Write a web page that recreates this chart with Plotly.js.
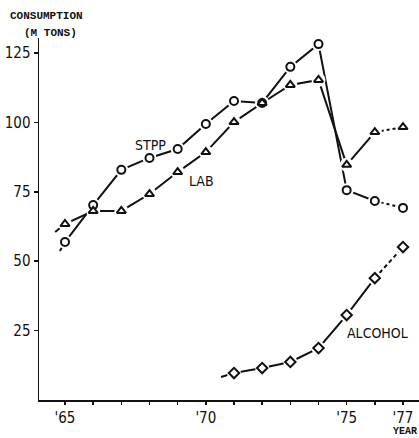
<!DOCTYPE html>
<html>
<head>
<meta charset="utf-8">
<script src="https://cdn.plot.ly/plotly-3.0.1.min.js"></script>
<style>html,body{margin:0;padding:0;background:#fff}#chart{width:419px;height:438px}</style>
</head>
<body>
<div id="chart"></div>
<script>
// ---- data ----
const years = [1965,1966,1967,1968,1969,1970,1971,1972,1973,1974,1975,1976,1977];
const stpp  = [56.9,70.2,82.9,87.2,90.4,99.4,107.7,107.0,120.0,128.2,75.6,71.7,69.2];
const lab   = [63.4,68.1,68.1,74.2,82.1,89.3,100.1,107.0,113.5,115.3,84.7,96.5,98.3];
const alcoholYears = [1971,1972,1973,1974,1975,1976,1977];
const alcohol      = [9.7,11.5,13.7,18.7,30.6,43.9,55.1];
// short leading strokes before the first point of each series
const stppLead    = {x: 1964.82, y: 53.7};
const labLead     = {x: 1964.65, y: 60.5};
const alcoholLead = {x: 1970.54, y: 8.3};
// tick labels
const xTickVals = years;
const xTickText = ["'65","","","","","'70","","","","","'75","","'77"];
const yTickVals = [25,50,75,100,125];
const yTickText = ["25","50","75","100","125"];
// series labels
const seriesLabels = [
  {text:"STPP", x:1968.02, y:91.9},
  {text:"LAB", x:1969.86, y:78.9},
  {text:"ALCOHOL", x:1976.11, y:24.1}
];

const INK = '#111';
const NARROW = '"Liberation Sans Narrow","DejaVu Sans Condensed","Arial Narrow",sans-serif';
const MONO = '"Liberation Mono","DejaVu Sans Mono",monospace';

function lineTrace(x, y, dash) {
  return {x:x, y:y, mode:'lines', type:'scatter', hoverinfo:'skip', showlegend:false,
          line:{color:INK, width:2, dash:dash||'solid'}};
}
function haloTrace(x, y) {
  return {x:x, y:y, mode:'markers', type:'scatter', hoverinfo:'skip', showlegend:false,
          marker:{symbol:'circle', size:14, color:'#fff', line:{width:0}}};
}
function markerTrace(x, y, sym, size) {
  return {x:x, y:y, mode:'markers', type:'scatter', showlegend:false,
          marker:{symbol:sym, size:size, color:'#fff', line:{color:INK, width:2}}};
}

const n = years.length;
const an = alcoholYears.length;
const traces = [
  lineTrace([stppLead.x, years[0]], [stppLead.y, stpp[0]]),
  lineTrace([labLead.x, years[0]], [labLead.y, lab[0]]),
  lineTrace([alcoholLead.x, alcoholYears[0]], [alcoholLead.y, alcohol[0]]),
  lineTrace(years.slice(0, n-1), stpp.slice(0, n-1)),
  lineTrace(years.slice(0, n-1), lab.slice(0, n-1)),
  lineTrace(alcoholYears.slice(0, an-1), alcohol.slice(0, an-1)),
  lineTrace(years.slice(n-2), stpp.slice(n-2), '3px,3px'),
  lineTrace(years.slice(n-2), lab.slice(n-2), '3px,3px'),
  lineTrace(alcoholYears.slice(an-2), alcohol.slice(an-2), '4px,3px'),
  haloTrace(years, stpp),
  haloTrace(years, lab),
  haloTrace(alcoholYears, alcohol),
  markerTrace(years, stpp, 'circle', 8),
  markerTrace(years, lab, 'triangle-up', 8),
  markerTrace(alcoholYears, alcohol, 'diamond', 8)
];

const annotations = seriesLabels.map(s => ({
  x:s.x, y:s.y, xref:'x', yref:'y', text:s.text, showarrow:false,
  font:{family:NARROW, size:14, color:INK}
}));
annotations.push(
  {xref:'paper', yref:'paper', x:-0.082, y:1.061, xanchor:'left', yanchor:'middle', showarrow:false,
   text:'<b>CONSUMPTION</b>', font:{family:MONO, size:11, color:INK}},
  {xref:'paper', yref:'paper', x:-0.045, y:1.014, xanchor:'left', yanchor:'middle', showarrow:false,
   text:'<b>(M TONS)</b>', font:{family:MONO, size:11, color:INK}},
  {xref:'paper', yref:'paper', x:1.0, y:-0.088, xanchor:'right', yanchor:'middle', showarrow:false,
   text:'<b>YEAR</b>', font:{family:MONO, size:10, color:INK}}
);

const layout = {
  width:419, height:438,
  margin:{l:39, r:0, t:38, b:38, pad:0},
  paper_bgcolor:'#fff', plot_bgcolor:'#fff',
  showlegend:false,
  xaxis:{range:[1964.077, 1977.568], showgrid:false, zeroline:false,
         showline:true, linecolor:INK, linewidth:1.5,
         ticks:'outside', ticklen:3, tickwidth:1.5, tickcolor:INK,
         tickmode:'array', tickvals:xTickVals, ticktext:xTickText,
         tickfont:{family:NARROW, size:15, color:INK}},
  yaxis:{range:[0, 130.4], showgrid:false, zeroline:false,
         showline:true, linecolor:INK, linewidth:1.5,
         ticks:'outside', ticklen:4, tickwidth:1.5, tickcolor:INK,
         ticksuffix:'\u2009\u2009',
         tickmode:'array', tickvals:yTickVals, ticktext:yTickText,
         tickfont:{family:NARROW, size:15, color:INK}},
  annotations:annotations
};

Plotly.newPlot('chart', traces, layout, {displayModeBar:false, staticPlot:true});
</script>
</body>
</html>
